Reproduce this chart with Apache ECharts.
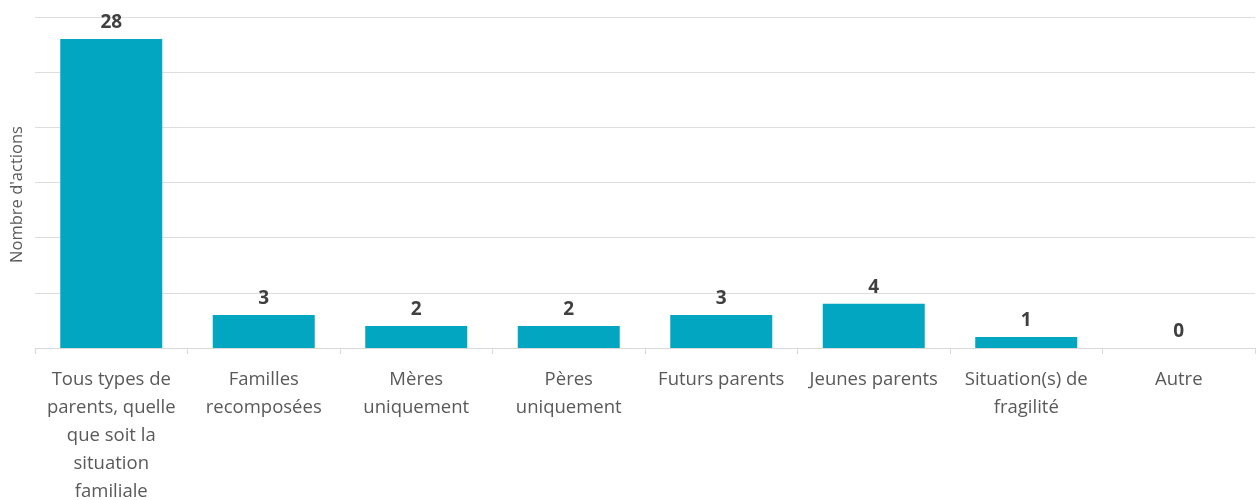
<!DOCTYPE html>
<html>
<head>
<meta charset="utf-8">
<script src="https://cdn.jsdelivr.net/npm/echarts@6/dist/echarts.min.js"></script>
<style>html,body{margin:0;padding:0;background:#fff}#c{width:1260px;height:500px}</style>
</head>
<body>
<div id="c"></div>
<script>
const categories = [
  "Tous types de\nparents, quelle\nque soit la\nsituation\nfamiliale",
  "Familles\nrecomposées",
  "Mères\nuniquement",
  "Pères\nuniquement",
  "Futurs parents",
  "Jeunes parents",
  "Situation(s) de\nfragilité",
  "Autre"
];
const values = [28, 3, 2, 2, 3, 4, 1, 0];
const yAxisName = "Nombre d'actions";

const chart = echarts.init(document.getElementById('c'), null, {renderer: 'canvas'});
chart.setOption({
  animation: false,
  textStyle: {fontFamily: '"Open Sans", "Noto Sans", sans-serif'},
  grid: {left: 35, right: 5, top: 17, bottom: 152, containLabel: false, outerBoundsMode: 'none'},
  xAxis: {
    type: 'category',
    data: categories,
    axisLine: {lineStyle: {color: '#d9d9d9'}},
    axisTick: {show: true, length: 6, lineStyle: {color: '#d9d9d9'}},
    axisLabel: {color: '#595959', fontSize: 18.5, lineHeight: 28, margin: 18, interval: 0, align: 'center'}
  },
  yAxis: {
    type: 'value',
    min: 0, max: 30, interval: 5,
    name: yAxisName,
    nameLocation: 'middle',
    nameGap: 9,
    nameRotate: 90,
    nameTextStyle: {color: '#595959', fontSize: 16.5, padding: [0, 24, 0, 0]},
    axisLabel: {show: false},
    axisLine: {show: false},
    axisTick: {show: false},
    splitLine: {lineStyle: {color: '#dedede'}}
  },
  series: [{
    type: 'bar',
    data: values,
    barWidth: 102,
    itemStyle: {color: '#02A6C0'},
    label: {show: true, position: 'top', distance: 7, color: '#404040', fontSize: 19, fontWeight: 'bold'}
  }]
});
</script>
</body>
</html>
